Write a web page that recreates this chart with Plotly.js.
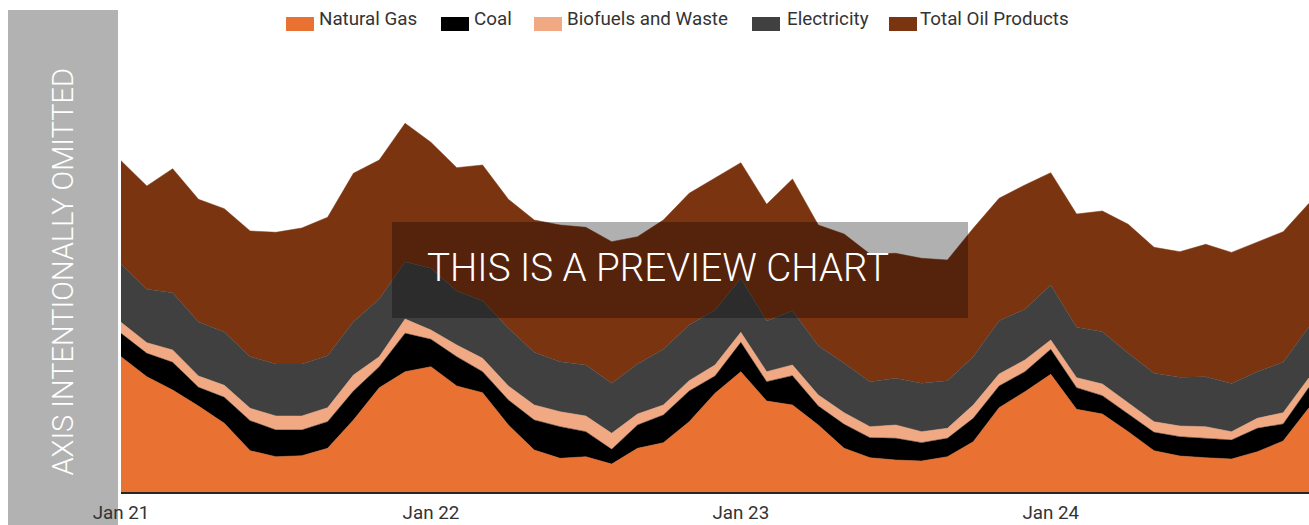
<!DOCTYPE html>
<html>
<head>
<meta charset="utf-8">
<script src="https://cdn.plot.ly/plotly-3.0.1.min.js"></script>
<style>
html,body{margin:0;padding:0;background:#fff;}
#chart{width:1309px;height:525px;}
</style>
</head>
<body>
<div id="chart"></div>
<script>
const months = ["Jan 21","Feb 21","Mar 21","Apr 21","May 21","Jun 21","Jul 21","Aug 21","Sep 21","Oct 21","Nov 21","Dec 21",
"Jan 22","Feb 22","Mar 22","Apr 22","May 22","Jun 22","Jul 22","Aug 22","Sep 22","Oct 22","Nov 22","Dec 22",
"Jan 23","Feb 23","Mar 23","Apr 23","May 23","Jun 23","Jul 23","Aug 23","Sep 23","Oct 23","Nov 23","Dec 23",
"Jan 24","Feb 24","Mar 24","Apr 24","May 24","Jun 24","Jul 24","Aug 24","Sep 24","Oct 24","Nov 24"];
const tickLabels = ["Jan 21","Jan 22","Jan 23","Jan 24"];
const seriesNames = ["Natural Gas","Coal","Biofuels and Waste","Electricity","Total Oil Products"];

const naturalGas = [135.3,115.3,102,86,68.7,41.3,35.3,36.3,43.7,72,104.3,120.3,125.3,106,99.3,67,42,33.7,35.3,28,43.7,49.3,70.3,98.7,120.3,91,87,67,43.7,34.3,32,31,35.3,50.3,84.3,100.3,117.7,82.7,78,60.3,41.3,36,34.3,33,40.3,51,84.3];
const coal = [23.4,23.4,27.7,18.7,26,30,26.7,25.7,26.6,29,21,38.4,27.4,29.3,21,25,30,31.6,25,14.7,23.3,27.7,30.7,17.3,29.4,19.3,29.3,19,24,20,21.7,18.3,18.4,23.4,21.7,20,25,21.6,18.3,17.7,18.4,19.3,19.4,19,23.4,17,20.4];
const biofuels = [11,10.6,12.3,11.3,12,12.4,14,14,14,16,10,14.3,9.3,11.7,13.4,14,15,15,15.7,16,11,10,10.3,11,10,10,10.7,11,11.6,11,13.3,11,10,13.3,12,11.7,9.3,10,11.7,10.7,10.6,10.7,11.6,8.3,10,11.3,9.6];
const electricity = [58.3,53.4,57.3,54,53.3,51.6,52,52,52,53.3,57.7,57.3,61.7,54,57.6,57.7,52.7,50,51,50,50,55.7,55.7,55,54,50.7,54.3,49.3,49.4,45,46.7,48.4,47.6,48.3,53.3,50.7,55,50.4,52.3,50,48.4,48.7,50,48.3,46.6,50.4,51];
const totalOil = [103.3,103.3,124,122.7,123.3,125.7,131.7,136,138.4,148.4,139,138.4,126,123.3,135.7,129,132.3,136.7,137.7,141.6,127.3,129.3,131.7,131.7,115.6,116.7,131.7,120.7,129.3,127.7,125,125,120.7,128.4,122.4,124.3,112.3,113.3,120.7,129,126,125.6,132.4,131,130,130.6,123.4];

const colors = ["#E97132","#000000","#F1A983","#404040","#7B3410"];
const values = [naturalGas, coal, biofuels, electricity, totalOil];

const W = 1309, H = 525, L = 121, B = 33, T = 0;
const plotW = W - L, plotH = H - B - T;
const px = x => (x - L) / plotW;
const py = y => (H - B - y) / plotH;

const traces = values.map((v, i) => ({
  type: 'scatter',
  mode: 'lines',
  name: seriesNames[i],
  x: months,
  y: v,
  stackgroup: 'one',
  fillcolor: colors[i],
  line: {color: colors[i], width: 0.5},
  hoverinfo: 'skip',
  showlegend: false
}));

const font = "Roboto, 'Noto Sans', sans-serif";
const shapes = [
  {type:'rect', xref:'paper', yref:'paper', x0:px(8), x1:px(118), y0:py(10), y1:py(525),
   fillcolor:'#B2B2B2', line:{width:0}, layer:'below'},
  {type:'rect', xref:'paper', yref:'paper', x0:px(392), x1:px(968), y0:py(222), y1:py(318),
   fillcolor:'rgba(0,0,0,0.31)', line:{width:0}, layer:'above'}
];
const annotations = [
  {xref:'paper', yref:'paper', x:px(63), y:py(271.5), text:'AXIS INTENTIONALLY OMITTED',
   textangle:-90, showarrow:false, xanchor:'center', yanchor:'middle',
   font:{family:font, size:29, color:'#FFFFFF', weight:300}},
  {xref:'paper', yref:'paper', x:px(657.5), y:py(267), text:'THIS IS A PREVIEW CHART',
   showarrow:false, xanchor:'center', yanchor:'middle',
   font:{family:font, size:38.6, color:'#FFFFFF', weight:300}}
];
const swatchX = [286, 441, 534, 752, 889];
const textX = [317, 472, 565, 785, 918];
seriesNames.forEach((n, i) => {
  shapes.push({type:'rect', xref:'paper', yref:'paper', x0:px(swatchX[i]), x1:px(swatchX[i]+28),
    y0:py(31), y1:py(17), fillcolor:colors[i], line:{width:0}, layer:'above'});
  annotations.push({xref:'paper', yref:'paper', x:px(textX[i]), y:py(19), text:n, showarrow:false,
    xanchor:'left', yanchor:'middle', font:{family:font, size:18.8, color:'#333333'}});
});

const layout = {
  width: W, height: H,
  margin: {l: L, r: 0, t: T, b: B, pad: 0},
  paper_bgcolor: '#FFFFFF', plot_bgcolor: '#FFFFFF',
  showlegend: false,
  xaxis: {type:'category', range:[0, months.length - 1], tickmode:'array', tickvals:tickLabels, ticktext:tickLabels,
    showgrid:false, zeroline:false, showline:true, linecolor:'#262626', linewidth:1.5, ticks:'',
    ticklabelstandoff:3,
    tickfont:{family:font, size:18.8, color:'#333333'}, fixedrange:true},
  yaxis: {range:[0, plotH], visible:false, showgrid:false, zeroline:false, fixedrange:true},
  shapes: shapes,
  annotations: annotations
};

Plotly.newPlot('chart', traces, layout, {displayModeBar:false, staticPlot:true});
</script>
</body>
</html>
